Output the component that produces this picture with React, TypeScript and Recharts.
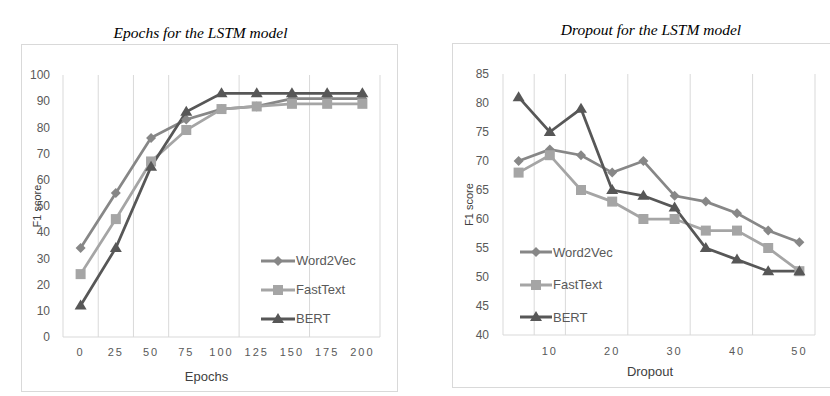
import React from 'react';
import { LineChart, Line, XAxis, YAxis, CartesianGrid, Legend } from 'recharts';

// ---------- Data: Epochs chart ----------
const epochCategories = [0, 25, 50, 75, 100, 125, 150, 175, 200];
const epochWord2Vec = [34, 55, 76, 83, 87, 88, 91, 91, 91];
const epochFastText = [24, 45, 67, 79, 87, 88, 89, 89, 89];
const epochBERT = [12, 34, 65, 86, 93, 93, 93, 93, 93];
const epochYTicks = [0, 10, 20, 30, 40, 50, 60, 70, 80, 90, 100];

// ---------- Data: Dropout chart ----------
const dropoutCategories = [5, 10, 15, 20, 25, 30, 35, 40, 45, 50];
const dropoutWord2Vec = [70, 72, 71, 68, 70, 64, 63, 61, 58, 56];
const dropoutFastText = [68, 71, 65, 63, 60, 60, 58, 58, 55, 51];
const dropoutBERT = [81, 75, 79, 65, 64, 62, 55, 53, 51, 51];
const dropoutXTicks = [10, 20, 30, 40, 50];
const dropoutYTicks = [40, 45, 50, 55, 60, 65, 70, 75, 80, 85];

type Shape = 'diamond' | 'square' | 'triangle';
interface SeriesDef { key: string; name: string; color: string; shape: Shape }

const series: SeriesDef[] = [
  { key: 'w2v', name: 'Word2Vec', color: '#878787', shape: 'diamond' },
  { key: 'ft', name: 'FastText', color: '#a5a5a5', shape: 'square' },
  { key: 'bert', name: 'BERT', color: '#575757', shape: 'triangle' },
];

const epochData = epochCategories.map((x, i) => ({
  x, w2v: epochWord2Vec[i], ft: epochFastText[i], bert: epochBERT[i],
}));
const dropoutData = dropoutCategories.map((x, i) => ({
  x, w2v: dropoutWord2Vec[i], ft: dropoutFastText[i], bert: dropoutBERT[i],
}));

// category band boundaries (gridlines sit between categories)
const bounds = (cats: number[]) => {
  const step = cats[1] - cats[0];
  return [...cats.map((c) => c - step / 2), cats[cats.length - 1] + step / 2];
};
const epochBounds = bounds(epochCategories);
const dropoutBounds = bounds(dropoutCategories);

const FONT = '"Liberation Sans", Arial, sans-serif';
const TEXT = '#595959';
const GRID = '#d9d9d9';

function Marker({ shape, cx, cy, color }: { shape: Shape; cx: number; cy: number; color: string }) {
  if (cx == null || cy == null) return null;
  if (shape === 'diamond') {
    const r = 5;
    return <path d={`M${cx},${cy - r}L${cx + r},${cy}L${cx},${cy + r}L${cx - r},${cy}Z`} fill={color} />;
  }
  if (shape === 'square') {
    const s = 5;
    return <rect x={cx - s} y={cy - s} width={2 * s} height={2 * s} fill={color} />;
  }
  return <path d={`M${cx},${cy - 6}L${cx + 6},${cy + 4}L${cx - 6},${cy + 4}Z`} fill={color} />;
}

const legendContent = (lineW: number, rowH: number) => () => (
  <div style={{ fontFamily: FONT, fontSize: 13, color: TEXT }}>
    {series.map((s) => (
      <div key={s.key} style={{ display: 'flex', alignItems: 'center', height: rowH }}>
        <svg width={lineW} height={14} style={{ display: 'block' }}>
          <line x1={0} y1={7} x2={lineW} y2={7} stroke={s.color} strokeWidth={3} />
          <Marker shape={s.shape} cx={lineW / 2} cy={7} color={s.color} />
        </svg>
        <span style={{ marginLeft: 1, whiteSpace: 'nowrap' }}>{s.name}</span>
      </div>
    ))}
  </div>
);

const renderLines = () =>
  series.map((s) => (
    <Line
      key={s.key}
      dataKey={s.key}
      name={s.name}
      stroke={s.color}
      strokeWidth={2.75}
      isAnimationActive={false}
      dot={(p: any) => (
        <Marker key={`${s.key}-${p.index}`} shape={s.shape} cx={p.cx} cy={p.cy} color={s.color} />
      )}
      activeDot={false}
    />
  ));

const titleStyle: React.CSSProperties = {
  position: 'absolute',
  fontFamily: '"Liberation Serif", "Times New Roman", serif',
  fontStyle: 'italic',
  fontSize: 15.5,
  color: '#000',
  textAlign: 'center',
  lineHeight: '18px',
  whiteSpace: 'nowrap',
};

export default function App() {
  return (
    <div style={{ position: 'absolute', left: 0, top: 0, width: 830, height: 396, background: '#fff', overflow: 'hidden' }}>
      {/* Left chart */}
      <div style={{ ...titleStyle, left: 0, top: 24, width: 401 }}>Epochs for the LSTM model</div>
      <div style={{ position: 'absolute', left: 21, top: 44, width: 377, height: 348, border: `1px solid ${GRID}`, boxSizing: 'border-box' }} />
      <div style={{ position: 'absolute', left: 21, top: 44 }}>
        <LineChart width={377} height={348} data={epochData} margin={{ top: 31, right: 18, bottom: 0, left: 0 }}>
          <XAxis xAxisId="grid" type="number" dataKey="x" domain={[epochBounds[0], epochBounds[epochBounds.length - 1]]} ticks={epochBounds} hide />
          <CartesianGrid xAxisId="grid" horizontal={false} stroke={GRID} strokeWidth={1} />
          <XAxis
            type="number"
            dataKey="x"
            domain={[epochBounds[0], epochBounds[epochBounds.length - 1]]}
            ticks={epochCategories}
            interval={0}
            height={55}
            tickLine={false}
            tickSize={0}
            tickMargin={11}
            axisLine={{ stroke: GRID }}
            tick={{ fill: TEXT, fontSize: 11, fontFamily: FONT, letterSpacing: 2 }}
            label={{ value: 'Epochs', position: 'insideBottom', offset: 11, dx: -15, fill: '#404040', fontSize: 13, fontFamily: FONT }}
          />
          <YAxis
            type="number"
            domain={[0, 100]}
            ticks={epochYTicks}
            interval={0}
            width={42}
            axisLine={false}
            tickLine={false}
            tickSize={0}
            tickMargin={13}
            tick={{ fill: TEXT, fontSize: 12, fontFamily: FONT }}
            label={{ value: 'F1 score', angle: -90, position: 'insideLeft', offset: 16, fill: '#404040', fontSize: 11, fontFamily: FONT, style: { textAnchor: 'middle' } }}
          />
          <Legend
            layout="vertical"
            align="center"
            verticalAlign="middle"
            content={legendContent(34, 29)}
            wrapperStyle={{ left: 240, top: 202, width: 'auto' }}
          />
          {renderLines()}
        </LineChart>
      </div>

      {/* Right chart */}
      <div style={{ ...titleStyle, left: 451, top: 21, width: 400 }}>Dropout for the LSTM model</div>
      <div style={{ position: 'absolute', left: 452, top: 43, width: 380, height: 345, border: `1px solid ${GRID}`, boxSizing: 'border-box' }} />
      <div style={{ position: 'absolute', left: 452, top: 43 }}>
        <LineChart width={380} height={345} data={dropoutData} margin={{ top: 31, right: 17, bottom: 0, left: 0 }}>
          <XAxis xAxisId="grid" type="number" dataKey="x" domain={[dropoutBounds[0], dropoutBounds[dropoutBounds.length - 1]]} ticks={dropoutBounds} hide />
          <CartesianGrid xAxisId="grid" horizontal={false} stroke={GRID} strokeWidth={1} />
          <XAxis
            type="number"
            dataKey="x"
            domain={[dropoutBounds[0], dropoutBounds[dropoutBounds.length - 1]]}
            ticks={dropoutXTicks}
            interval={0}
            height={53}
            tickLine={false}
            tickSize={0}
            tickMargin={12}
            axisLine={{ stroke: GRID }}
            tick={{ fill: TEXT, fontSize: 11, fontFamily: FONT, letterSpacing: 2 }}
            label={{ value: 'Dropout', position: 'insideBottom', offset: 12, dx: -9, fill: '#404040', fontSize: 13, fontFamily: FONT }}
          />
          <YAxis
            type="number"
            domain={[40, 85]}
            ticks={dropoutYTicks}
            interval={0}
            width={51}
            axisLine={false}
            tickLine={false}
            tickSize={0}
            tickMargin={14}
            tick={{ fill: TEXT, fontSize: 12, fontFamily: FONT }}
            label={{ value: 'F1 score', angle: -90, position: 'insideLeft', offset: 17, fill: '#404040', fontSize: 11, fontFamily: FONT, style: { textAnchor: 'middle' } }}
          />
          <Legend
            layout="vertical"
            align="center"
            verticalAlign="middle"
            content={legendContent(32, 32.5)}
            wrapperStyle={{ left: 68, top: 193, width: 'auto' }}
          />
          {renderLines()}
        </LineChart>
      </div>
    </div>
  );
}
